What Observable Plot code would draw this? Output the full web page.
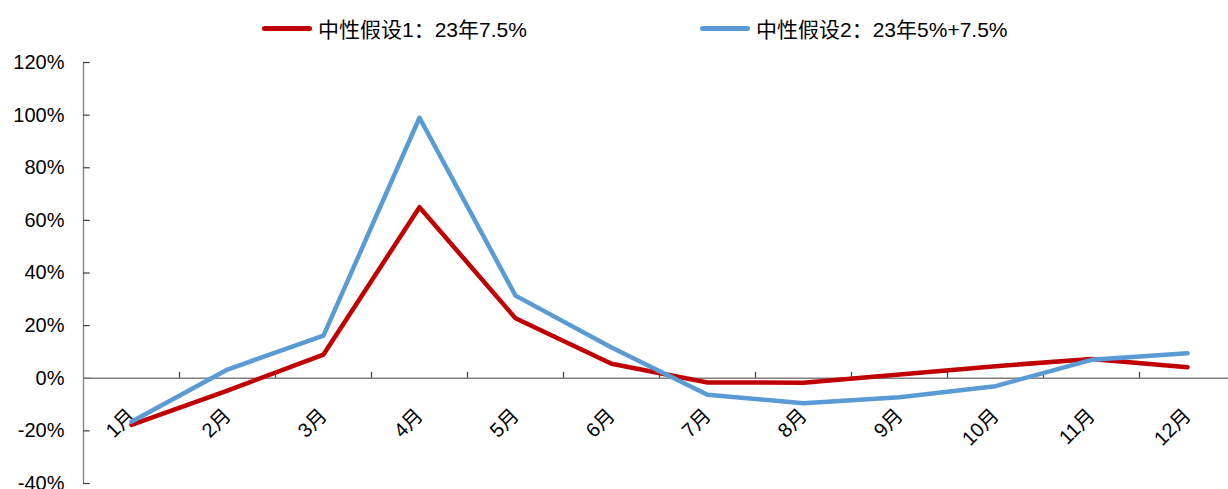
<!DOCTYPE html>
<html>
<head>
<meta charset="utf-8">
<script src="https://cdn.jsdelivr.net/npm/d3@7"></script>
<script src="https://cdn.jsdelivr.net/npm/@observablehq/plot@0.6"></script>
<style>
  body { margin: 0; background: #fff; font-family: "Liberation Sans", Arial, "Noto Sans CJK SC", sans-serif; }
  #legend { position: relative; height: 50px; width: 1228px; font-size: 21px; color: #000; }
  .item { position: absolute; top: 13px; display: flex; align-items: center; white-space: nowrap; }
  .sw { width: 50px; height: 5px; border-radius: 3px; margin-right: 6px; }
</style>
</head>
<body>
<div id="legend"></div>
<div id="chart"></div>
<script>
const months = ["1月","2月","3月","4月","5月","6月","7月","8月","9月","10月","11月","12月"];
const seriesNames = ["中性假设1：23年7.5%", "中性假设2：23年5%+7.5%"];
const seriesColors = ["#C00000", "#5B9BD5"];
const neutral1 = [-17.7, -4.7, 9.0, 65.0, 22.8, 5.5, -1.6, -1.7, 1.4, 4.6, 7.3, 4.2];
const neutral2 = [-16.5, 3.3, 16.2, 99.0, 31.4, 11.7, -6.3, -9.5, -7.2, -3.0, 7.0, 9.5];
const yTicks = [-40, -20, 0, 20, 40, 60, 80, 100, 120];

const legend = document.getElementById("legend");
const legendLeft = [262, 700];
seriesNames.forEach((n, i) => {
  const it = document.createElement("div");
  it.className = "item";
  it.style.left = legendLeft[i] + "px";
  it.innerHTML = `<span class="sw" style="background:${seriesColors[i]}"></span><span>${n}</span>`;
  legend.appendChild(it);
});

const data = [];
months.forEach((m, i) => {
  data.push({series: seriesNames[0], idx: i + 0.5, value: neutral1[i]});
  data.push({series: seriesNames[1], idx: i + 0.5, value: neutral2[i]});
});
const labelData = months.map((m, i) => ({idx: i + 0.5, label: m}));
const bandEdges = d3.range(1, 12);

const chart = Plot.plot({
  width: 1228,
  height: 439,
  marginLeft: 83,
  marginRight: -7,
  marginTop: 12,
  marginBottom: 6,
  style: {fontFamily: '"Liberation Sans", Arial, "Noto Sans CJK SC", sans-serif', fontSize: "20px", background: "#fff", overflow: "visible"},
  x: {domain: [0, 12], axis: null},
  y: {domain: [-40, 120], axis: null},
  color: {domain: seriesNames, range: seriesColors},
  marks: [
    Plot.ruleX([0], {y1: -40, y2: 120, stroke: "#7f7f7f", strokeWidth: 1.3}),
    Plot.ruleY(yTicks, {x1: 0, x2: 0.07, stroke: "#404040", strokeWidth: 1.2}),
    Plot.axisY({ticks: yTicks, tickSize: 0, tickPadding: 19, label: null, tickFormat: d => d + "%", fill: "#000", fontSize: 20}),
    Plot.ruleY([0], {stroke: "#7f7f7f", strokeWidth: 1.3}),
    Plot.ruleX(bandEdges, {y1: 0, y2: 2.3, stroke: "#404040", strokeWidth: 1.2}),
    Plot.text(labelData, {x: "idx", y: () => 0, text: "label", rotate: -45, textAnchor: "end", dx: 0, dy: 34, fill: "#000", fontSize: 20}),
    Plot.line(data, {x: "idx", y: "value", z: "series", stroke: "series", strokeWidth: 4.5, strokeLinecap: "round", strokeLinejoin: "round"})
  ]
});
document.getElementById("chart").appendChild(chart);
</script>
</body>
</html>
